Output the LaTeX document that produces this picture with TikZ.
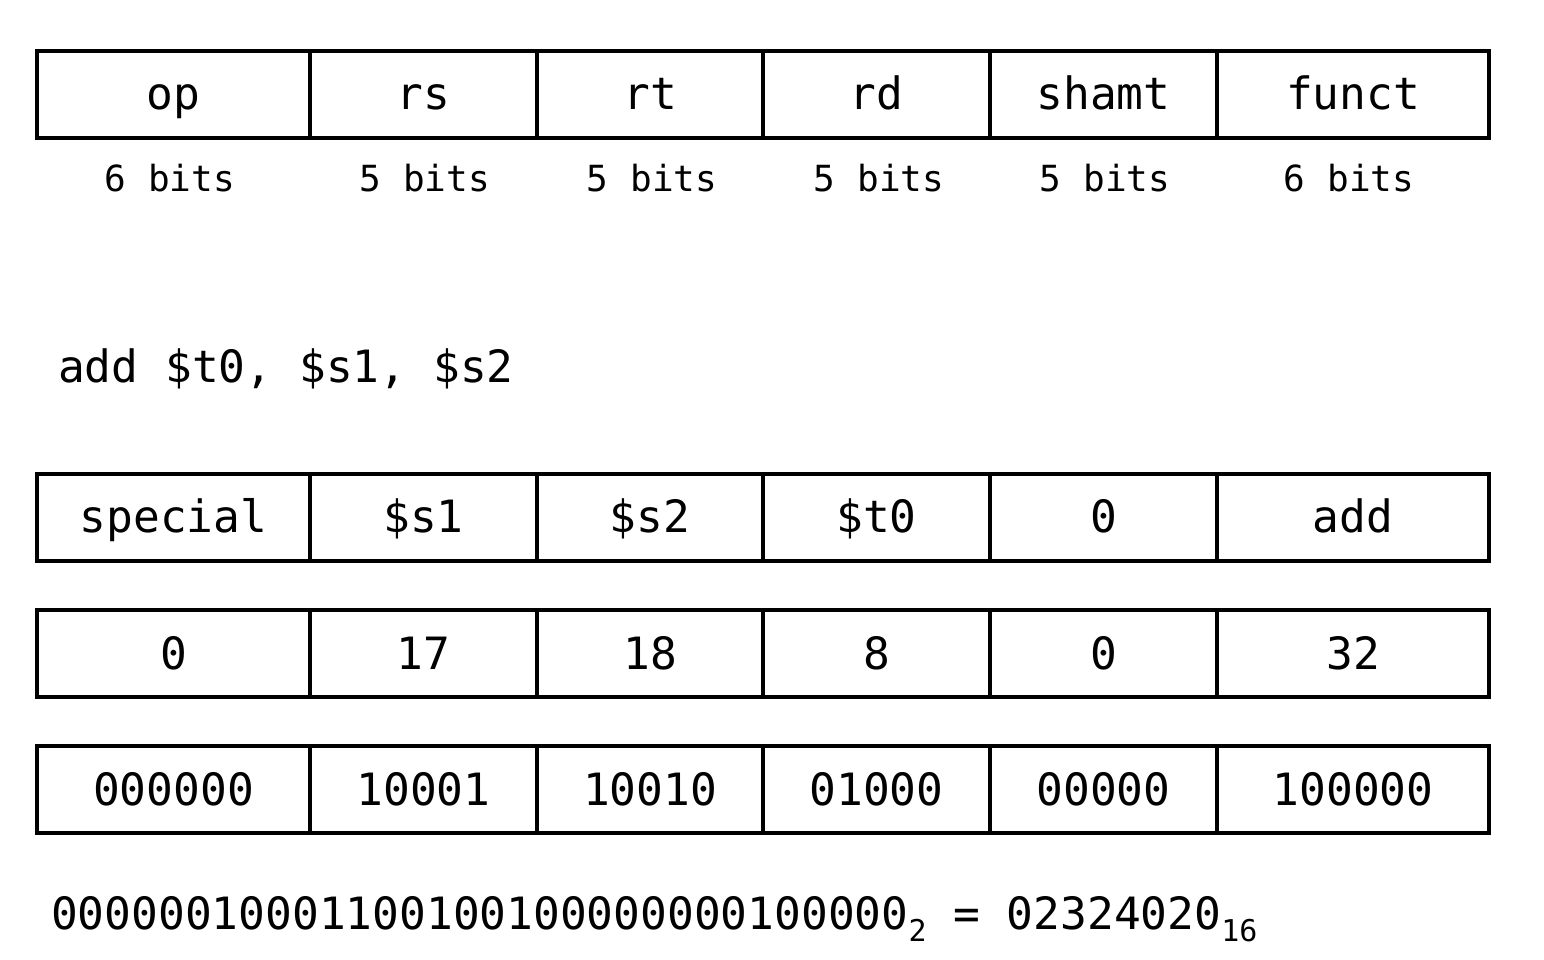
\documentclass[tikz,border=0pt]{standalone}
\usepackage{fontspec}
\setmonofont{DejaVu Sans Mono}
\begin{document}
\begin{tikzpicture}[x=1pt,y=-1pt,
  cell/.style={draw,line width=4pt,line join=miter},
  big/.style={anchor=base,inner sep=0pt,font=\ttfamily\fontsize{44.5}{50}\selectfont},
  small/.style={anchor=base,inner sep=0pt,font=\ttfamily\fontsize{36}{42}\selectfont},
  plain/.style={anchor=base west,inner sep=0pt,font=\ttfamily\fontsize{44.5}{50}\selectfont}]
\useasboundingbox (0,0) rectangle (1544,960);
\foreach \y in {51,474,610,746}{
  \draw[cell] (37,\y) rectangle (1489,{\y+87});
  \foreach \x in {310,537,763,990,1217}{
    \draw[cell] (\x,\y) -- (\x,{\y+87});
  }
}
% row 1
\foreach \n/\x/\t in {a/173.5/op,b/423.5/rs,c/650/rt,d/876.5/rd,e/1103.5/shamt,f/1353/funct}{
  \node[big] (h\n) at (\x,110) {\t};
}
\foreach \n/\x/\t in {a/170/6 bits,b/425/5 bits,c/652/5 bits,d/879/5 bits,e/1105/5 bits,f/1349/6 bits}{
  \node[small] (w\n) at (\x,192) {\t};
}
\node[plain] (instr) at (58,382) {add \$t0, \$s1, \$s2};
\foreach \n/\x/\t in {a/173.5/special,b/423.5/\$s1,c/650/\$s2,d/876.5/\$t0,e/1103.5/0,f/1353/add}{
  \node[big] (s\n) at (\x,532) {\t};
}
\foreach \n/\x/\t in {a/173.5/0,b/423.5/17,c/650/18,d/876.5/8,e/1103.5/0,f/1353/32}{
  \node[big] (d\n) at (\x,669) {\t};
}
\foreach \n/\x/\t in {a/173.5/000000,b/423.5/10001,c/650/10010,d/876.5/01000,e/1103.5/00000,f/1353/100000}{
  \node[big] (b\n) at (\x,805) {\t};
}
\node[plain] (result) at (51,929) {00000010001100100100000000100000\raisebox{-12pt}{\fontsize{30}{34}\selectfont 2} = 02324020\raisebox{-12pt}{\fontsize{30}{34}\selectfont 16}};
\end{tikzpicture}
\end{document}
